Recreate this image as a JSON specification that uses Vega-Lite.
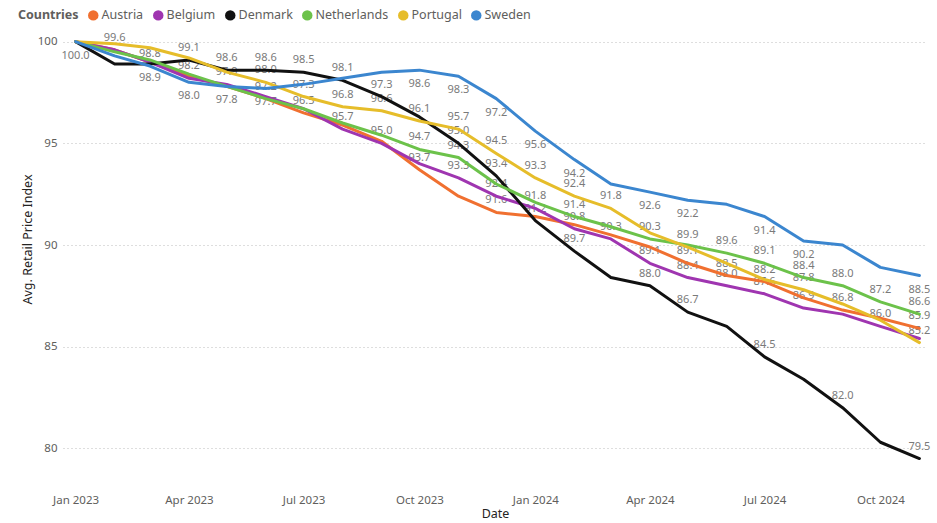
{
  "$schema": "https://vega.github.io/schema/vega-lite/v6.json",
  "width": 864,
  "height": 450,
  "autosize": {"type": "none"},
  "padding": {"left": 63, "top": 38, "right": 10, "bottom": 35},
  "background": "white",
  "config": {"view": {"stroke": null}, "font": "Noto Sans"},
  "data": {
    "values": [
      {"Date": "2023-01-01", "Country": "Austria", "Value": 100.0},
      {"Date": "2023-02-01", "Country": "Austria", "Value": 99.6},
      {"Date": "2023-03-01", "Country": "Austria", "Value": 99.0},
      {"Date": "2023-04-01", "Country": "Austria", "Value": 98.3},
      {"Date": "2023-05-01", "Country": "Austria", "Value": 97.8},
      {"Date": "2023-06-01", "Country": "Austria", "Value": 97.2},
      {"Date": "2023-07-01", "Country": "Austria", "Value": 96.5, "L": 1},
      {"Date": "2023-08-01", "Country": "Austria", "Value": 95.9},
      {"Date": "2023-09-01", "Country": "Austria", "Value": 95.1},
      {"Date": "2023-10-01", "Country": "Austria", "Value": 93.7, "L": 1},
      {"Date": "2023-11-01", "Country": "Austria", "Value": 92.4},
      {"Date": "2023-12-01", "Country": "Austria", "Value": 91.6, "L": 1},
      {"Date": "2024-01-01", "Country": "Austria", "Value": 91.4},
      {"Date": "2024-02-01", "Country": "Austria", "Value": 91.0},
      {"Date": "2024-03-01", "Country": "Austria", "Value": 90.5},
      {"Date": "2024-04-01", "Country": "Austria", "Value": 89.9},
      {"Date": "2024-05-01", "Country": "Austria", "Value": 89.1, "L": 1},
      {"Date": "2024-06-01", "Country": "Austria", "Value": 88.5, "L": 1},
      {"Date": "2024-07-01", "Country": "Austria", "Value": 88.2, "L": 1},
      {"Date": "2024-08-01", "Country": "Austria", "Value": 87.4},
      {"Date": "2024-09-01", "Country": "Austria", "Value": 86.8, "L": 1},
      {"Date": "2024-10-01", "Country": "Austria", "Value": 86.4},
      {"Date": "2024-11-01", "Country": "Austria", "Value": 85.9, "L": 1},

      {"Date": "2023-01-01", "Country": "Belgium", "Value": 100.0},
      {"Date": "2023-02-01", "Country": "Belgium", "Value": 99.6, "L": 1},
      {"Date": "2023-03-01", "Country": "Belgium", "Value": 99.0},
      {"Date": "2023-04-01", "Country": "Belgium", "Value": 98.2, "L": 1},
      {"Date": "2023-05-01", "Country": "Belgium", "Value": 97.9, "L": 1},
      {"Date": "2023-06-01", "Country": "Belgium", "Value": 97.3},
      {"Date": "2023-07-01", "Country": "Belgium", "Value": 96.7},
      {"Date": "2023-08-01", "Country": "Belgium", "Value": 95.7, "L": 1},
      {"Date": "2023-09-01", "Country": "Belgium", "Value": 95.0, "L": 1},
      {"Date": "2023-10-01", "Country": "Belgium", "Value": 94.0},
      {"Date": "2023-11-01", "Country": "Belgium", "Value": 93.3, "L": 1},
      {"Date": "2023-12-01", "Country": "Belgium", "Value": 92.4, "L": 1},
      {"Date": "2024-01-01", "Country": "Belgium", "Value": 91.8, "L": 1},
      {"Date": "2024-02-01", "Country": "Belgium", "Value": 90.8, "L": 1},
      {"Date": "2024-03-01", "Country": "Belgium", "Value": 90.3, "L": 1},
      {"Date": "2024-04-01", "Country": "Belgium", "Value": 89.1, "L": 1},
      {"Date": "2024-05-01", "Country": "Belgium", "Value": 88.4, "L": 1},
      {"Date": "2024-06-01", "Country": "Belgium", "Value": 88.0, "L": 1},
      {"Date": "2024-07-01", "Country": "Belgium", "Value": 87.6, "L": 1},
      {"Date": "2024-08-01", "Country": "Belgium", "Value": 86.9, "L": 1},
      {"Date": "2024-09-01", "Country": "Belgium", "Value": 86.6},
      {"Date": "2024-10-01", "Country": "Belgium", "Value": 86.0, "L": 1},
      {"Date": "2024-11-01", "Country": "Belgium", "Value": 85.4},

      {"Date": "2023-01-01", "Country": "Denmark", "Value": 100.0, "L": 1},
      {"Date": "2023-02-01", "Country": "Denmark", "Value": 98.9},
      {"Date": "2023-03-01", "Country": "Denmark", "Value": 98.9, "L": 1},
      {"Date": "2023-04-01", "Country": "Denmark", "Value": 99.1, "L": 1},
      {"Date": "2023-05-01", "Country": "Denmark", "Value": 98.6, "L": 1},
      {"Date": "2023-06-01", "Country": "Denmark", "Value": 98.6, "L": 1},
      {"Date": "2023-07-01", "Country": "Denmark", "Value": 98.5, "L": 1},
      {"Date": "2023-08-01", "Country": "Denmark", "Value": 98.1, "L": 1},
      {"Date": "2023-09-01", "Country": "Denmark", "Value": 97.3, "L": 1},
      {"Date": "2023-10-01", "Country": "Denmark", "Value": 96.3},
      {"Date": "2023-11-01", "Country": "Denmark", "Value": 95.0, "L": 1},
      {"Date": "2023-12-01", "Country": "Denmark", "Value": 93.4, "L": 1},
      {"Date": "2024-01-01", "Country": "Denmark", "Value": 91.2, "L": 1},
      {"Date": "2024-02-01", "Country": "Denmark", "Value": 89.7, "L": 1},
      {"Date": "2024-03-01", "Country": "Denmark", "Value": 88.4},
      {"Date": "2024-04-01", "Country": "Denmark", "Value": 88.0, "L": 1},
      {"Date": "2024-05-01", "Country": "Denmark", "Value": 86.7, "L": 1},
      {"Date": "2024-06-01", "Country": "Denmark", "Value": 86.0},
      {"Date": "2024-07-01", "Country": "Denmark", "Value": 84.5, "L": 1},
      {"Date": "2024-08-01", "Country": "Denmark", "Value": 83.4},
      {"Date": "2024-09-01", "Country": "Denmark", "Value": 82.0, "L": 1},
      {"Date": "2024-10-01", "Country": "Denmark", "Value": 80.3},
      {"Date": "2024-11-01", "Country": "Denmark", "Value": 79.5, "L": 1},

      {"Date": "2023-01-01", "Country": "Netherlands", "Value": 100.0},
      {"Date": "2023-02-01", "Country": "Netherlands", "Value": 99.5},
      {"Date": "2023-03-01", "Country": "Netherlands", "Value": 99.1},
      {"Date": "2023-04-01", "Country": "Netherlands", "Value": 98.4},
      {"Date": "2023-05-01", "Country": "Netherlands", "Value": 97.8},
      {"Date": "2023-06-01", "Country": "Netherlands", "Value": 97.2, "L": 1},
      {"Date": "2023-07-01", "Country": "Netherlands", "Value": 96.7},
      {"Date": "2023-08-01", "Country": "Netherlands", "Value": 96.0},
      {"Date": "2023-09-01", "Country": "Netherlands", "Value": 95.4},
      {"Date": "2023-10-01", "Country": "Netherlands", "Value": 94.7, "L": 1},
      {"Date": "2023-11-01", "Country": "Netherlands", "Value": 94.3, "L": 1},
      {"Date": "2023-12-01", "Country": "Netherlands", "Value": 93.0},
      {"Date": "2024-01-01", "Country": "Netherlands", "Value": 92.1},
      {"Date": "2024-02-01", "Country": "Netherlands", "Value": 91.4, "L": 1},
      {"Date": "2024-03-01", "Country": "Netherlands", "Value": 90.9},
      {"Date": "2024-04-01", "Country": "Netherlands", "Value": 90.3, "L": 1},
      {"Date": "2024-05-01", "Country": "Netherlands", "Value": 90.0},
      {"Date": "2024-06-01", "Country": "Netherlands", "Value": 89.6, "L": 1},
      {"Date": "2024-07-01", "Country": "Netherlands", "Value": 89.1, "L": 1},
      {"Date": "2024-08-01", "Country": "Netherlands", "Value": 88.4, "L": 1},
      {"Date": "2024-09-01", "Country": "Netherlands", "Value": 88.0, "L": 1},
      {"Date": "2024-10-01", "Country": "Netherlands", "Value": 87.2, "L": 1},
      {"Date": "2024-11-01", "Country": "Netherlands", "Value": 86.6, "L": 1},

      {"Date": "2023-01-01", "Country": "Portugal", "Value": 100.0},
      {"Date": "2023-02-01", "Country": "Portugal", "Value": 99.9},
      {"Date": "2023-03-01", "Country": "Portugal", "Value": 99.7},
      {"Date": "2023-04-01", "Country": "Portugal", "Value": 99.2},
      {"Date": "2023-05-01", "Country": "Portugal", "Value": 98.5},
      {"Date": "2023-06-01", "Country": "Portugal", "Value": 98.0, "L": 1},
      {"Date": "2023-07-01", "Country": "Portugal", "Value": 97.3, "L": 1},
      {"Date": "2023-08-01", "Country": "Portugal", "Value": 96.8, "L": 1},
      {"Date": "2023-09-01", "Country": "Portugal", "Value": 96.6, "L": 1},
      {"Date": "2023-10-01", "Country": "Portugal", "Value": 96.1, "L": 1},
      {"Date": "2023-11-01", "Country": "Portugal", "Value": 95.7, "L": 1},
      {"Date": "2023-12-01", "Country": "Portugal", "Value": 94.5, "L": 1},
      {"Date": "2024-01-01", "Country": "Portugal", "Value": 93.3, "L": 1},
      {"Date": "2024-02-01", "Country": "Portugal", "Value": 92.4, "L": 1},
      {"Date": "2024-03-01", "Country": "Portugal", "Value": 91.8, "L": 1},
      {"Date": "2024-04-01", "Country": "Portugal", "Value": 90.6},
      {"Date": "2024-05-01", "Country": "Portugal", "Value": 89.9, "L": 1},
      {"Date": "2024-06-01", "Country": "Portugal", "Value": 89.1},
      {"Date": "2024-07-01", "Country": "Portugal", "Value": 88.3},
      {"Date": "2024-08-01", "Country": "Portugal", "Value": 87.8, "L": 1},
      {"Date": "2024-09-01", "Country": "Portugal", "Value": 87.1},
      {"Date": "2024-10-01", "Country": "Portugal", "Value": 86.3},
      {"Date": "2024-11-01", "Country": "Portugal", "Value": 85.2, "L": 1},

      {"Date": "2023-01-01", "Country": "Sweden", "Value": 100.0},
      {"Date": "2023-02-01", "Country": "Sweden", "Value": 99.3},
      {"Date": "2023-03-01", "Country": "Sweden", "Value": 98.8, "L": 1},
      {"Date": "2023-04-01", "Country": "Sweden", "Value": 98.0, "L": 1},
      {"Date": "2023-05-01", "Country": "Sweden", "Value": 97.8, "L": 1},
      {"Date": "2023-06-01", "Country": "Sweden", "Value": 97.7, "L": 1},
      {"Date": "2023-07-01", "Country": "Sweden", "Value": 97.9},
      {"Date": "2023-08-01", "Country": "Sweden", "Value": 98.2},
      {"Date": "2023-09-01", "Country": "Sweden", "Value": 98.5},
      {"Date": "2023-10-01", "Country": "Sweden", "Value": 98.6, "L": 1},
      {"Date": "2023-11-01", "Country": "Sweden", "Value": 98.3, "L": 1},
      {"Date": "2023-12-01", "Country": "Sweden", "Value": 97.2, "L": 1},
      {"Date": "2024-01-01", "Country": "Sweden", "Value": 95.6, "L": 1},
      {"Date": "2024-02-01", "Country": "Sweden", "Value": 94.2, "L": 1},
      {"Date": "2024-03-01", "Country": "Sweden", "Value": 93.0},
      {"Date": "2024-04-01", "Country": "Sweden", "Value": 92.6, "L": 1},
      {"Date": "2024-05-01", "Country": "Sweden", "Value": 92.2, "L": 1},
      {"Date": "2024-06-01", "Country": "Sweden", "Value": 92.0},
      {"Date": "2024-07-01", "Country": "Sweden", "Value": 91.4, "L": 1},
      {"Date": "2024-08-01", "Country": "Sweden", "Value": 90.2, "L": 1},
      {"Date": "2024-09-01", "Country": "Sweden", "Value": 90.0},
      {"Date": "2024-10-01", "Country": "Sweden", "Value": 88.9},
      {"Date": "2024-11-01", "Country": "Sweden", "Value": 88.5, "L": 1}
    ]
  },
  "encoding": {
    "x": {
      "field": "Date",
      "type": "temporal",
      "title": "Date",
      "scale": {
        "type": "utc",
        "domain": [
          {"year": 2022, "month": 12, "date": 22, "utc": true},
          {"year": 2024, "month": 11, "date": 7, "utc": true}
        ]
      },
      "axis": {
        "values": [
          {"year": 2023, "month": 1, "date": 1, "utc": true},
          {"year": 2023, "month": 4, "date": 1, "utc": true},
          {"year": 2023, "month": 7, "date": 1, "utc": true},
          {"year": 2023, "month": 10, "date": 1, "utc": true},
          {"year": 2024, "month": 1, "date": 1, "utc": true},
          {"year": 2024, "month": 4, "date": 1, "utc": true},
          {"year": 2024, "month": 7, "date": 1, "utc": true},
          {"year": 2024, "month": 10, "date": 1, "utc": true}
        ],
        "labelExpr": "utcFormat(datum.value, '%b %Y')",
        "grid": false,
        "domain": false,
        "ticks": false,
        "labelColor": "#605E5C",
        "labelFontSize": 11.5,
        "labelPadding": 6,
        "titleColor": "#252423",
        "titleFontSize": 12.5,
        "titleFontWeight": "normal",
        "titlePadding": 2
      }
    },
    "y": {
      "field": "Value",
      "type": "quantitative",
      "title": "Avg. Retail Price Index",
      "scale": {"domain": [78.05, 100.18], "nice": false, "zero": false},
      "axis": {
        "values": [80, 85, 90, 95, 100],
        "grid": true,
        "gridDash": [1, 3],
        "gridColor": "#BDBDBD",
        "gridWidth": 1,
        "domain": false,
        "ticks": false,
        "labelColor": "#605E5C",
        "labelFontSize": 11.5,
        "labelPadding": 6,
        "titleColor": "#252423",
        "titleFontSize": 12.5,
        "titleFontWeight": "normal",
        "titleX": -36,
        "titleY": 201,
        "titleAlign": "center",
        "titleBaseline": "middle"
      }
    }
  },
  "layer": [
    {
      "transform": [
        {"filter": "datum.L == 1 && !((datum.Country == 'Sweden' && !(utcyear(datum.Date) == 2023 && utcmonth(datum.Date) == 2)) || (datum.Country == 'Denmark' && utcyear(datum.Date) == 2023 && (utcmonth(datum.Date) == 2 || utcmonth(datum.Date) == 0)))"}
      ],
      "mark": {"type": "text", "dy": -12, "fontSize": 11, "color": "#7A7A7A", "baseline": "middle"},
      "encoding": {"text": {"field": "Value", "type": "quantitative", "format": ".1f"}}
    },
    {
      "transform": [
        {"filter": "datum.L == 1 && ((datum.Country == 'Sweden' && !(utcyear(datum.Date) == 2023 && utcmonth(datum.Date) == 2)) || (datum.Country == 'Denmark' && utcyear(datum.Date) == 2023 && (utcmonth(datum.Date) == 2 || utcmonth(datum.Date) == 0)))"}
      ],
      "mark": {"type": "text", "dy": 14, "fontSize": 11, "color": "#7A7A7A", "baseline": "middle"},
      "encoding": {"text": {"field": "Value", "type": "quantitative", "format": ".1f"}}
    },
    {
      "mark": {"type": "line", "strokeWidth": 3, "strokeJoin": "round", "strokeCap": "round"},
      "encoding": {
        "color": {
          "field": "Country",
          "type": "nominal",
          "scale": {
            "domain": ["Austria", "Belgium", "Denmark", "Netherlands", "Portugal", "Sweden"],
            "range": ["#F07030", "#9F35B0", "#111111", "#6CC24A", "#E6BD2A", "#3B86CF"]
          },
          "legend": {
            "title": "Countries",
            "orient": "none",
            "legendX": -45,
            "legendY": -29,
            "direction": "horizontal",
            "titleOrient": "left",
            "titleFontSize": 12.5,
            "titleFontWeight": "bold",
            "titleColor": "#605E5C",
            "titlePadding": 8,
            "labelFontSize": 12.5,
            "labelColor": "#605E5C",
            "labelOffset": 2,
            "columnPadding": 8,
            "symbolType": "circle",
            "symbolSize": 110,
            "symbolStrokeWidth": 0,
            "encode": {"symbols": {"update": {"fill": {"scale": "color", "field": "value"}, "fillOpacity": {"value": 1}}}}
          }
        }
      }
    }
  ]
}
